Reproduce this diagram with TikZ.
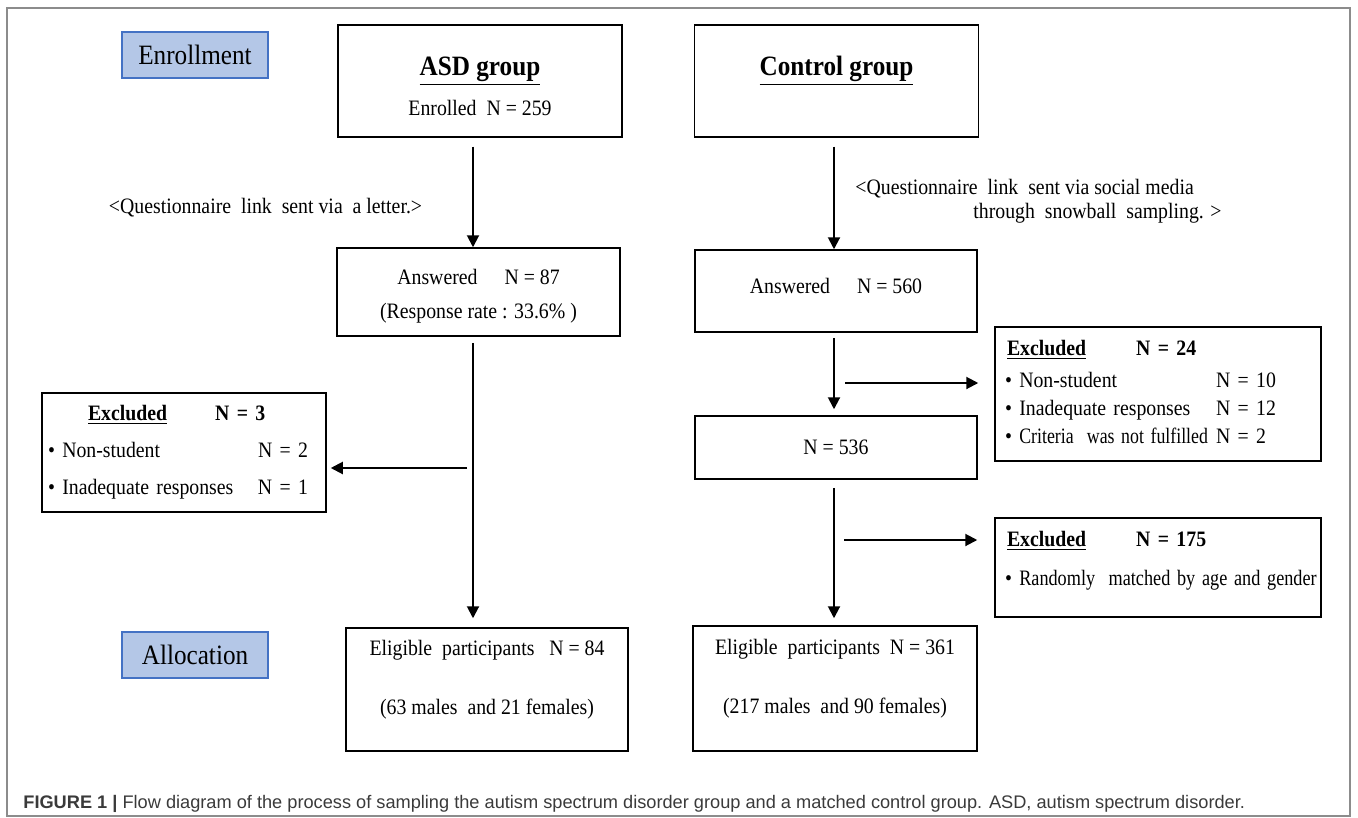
\documentclass[tikz,border=0pt]{standalone}
\usepackage{fontspec}
\usepackage{graphicx}
\setmainfont{Liberation Serif}[FakeStretch=0.9]
\newfontfamily\capfont{Liberation Sans}
\usetikzlibrary{arrows.meta, positioning, calc}
\definecolor{StageBlue}{HTML}{B4C7E7}
\definecolor{StageEdge}{HTML}{4472C4}
\definecolor{FrameGray}{HTML}{8C8C8C}
\definecolor{CaptionInk}{HTML}{3A3A3A}
% invisible struts that push a box text up or down
\newcommand{\padtop}[1]{\rule{0pt}{#1}}
\newcommand{\padbot}[1]{\rule[-#1]{0pt}{0pt}}

\begin{document}
\begin{tikzpicture}[x=0.5pt, y=-0.5pt,
    box/.style={draw, line width=0.75pt, align=center, inner sep=0pt, font=\fontsize{11}{13}\selectfont},
    stage/.style={draw=StageEdge, fill=StageBlue, line width=0.8pt, minimum width=73pt, minimum height=23pt, inner sep=0pt, font=\fontsize{14}{16}\selectfont},
    exbox/.style={draw, line width=0.75pt, align=left, inner ysep=0pt, font=\fontsize{11}{13}\selectfont},
    arr/.style={-{Triangle[length=6pt, width=6pt]}, line width=1pt},
    note/.style={inner sep=0pt, font=\fontsize{11}{13}\selectfont}]
    \useasboundingbox (0,0) rectangle (1358,818);
    \draw[FrameGray, line width=0.6pt] (7,8) rectangle (1350,816);

    % stages
    \node[stage] (enroll) at (195,55) {Enrollment};
    \node[stage] (alloc) at (195,655) {Allocation};

    % ASD column
    \node[box, minimum width=142pt, minimum height=56pt] (asd) at (480,81)
        {\padtop{15pt}{\fontsize{14}{16}\selectfont\underline{\textbf{ASD group}}}\\[7pt]Enrolled\ \ N = 259};
    \node[box, minimum width=141.5pt, minimum height=44pt] (asdans) at (478.5,292)
        {\padtop{12pt}Answered\quad\ N = 87\\[4pt](Response rate : 33.6\% )};
    \node[box, minimum width=141pt, minimum height=61.5pt] (asdelig) at (487,689.5)
        {Eligible\ \ participants\ \ \ N = 84\\[16.5pt](63 males\ \ and 21 females)\padbot{12pt}};
    \node[exbox, inner xsep=3pt, text width=136pt, minimum height=59.5pt] (asdexc) at (184,452.5)
        {\begin{tabular}{@{}p{105pt}@{}l@{}}
         \multicolumn{2}{@{}l@{}}{\hspace{20pt}\underline{\textbf{Excluded}}\hspace{24pt}\textbf{N = 3}}\\[5.5pt]
         • Non-student & N = 2\\[5.5pt]
         • Inadequate responses & N = 1
         \end{tabular}};

    % control column
    \node[box, minimum width=142pt, minimum height=56pt] (ctrl) at (836.5,81)
        {\padtop{15pt}{\fontsize{14}{16}\selectfont\underline{\textbf{Control group}}}\\[7pt]\vphantom{Enrolled}};
    \node[box, minimum width=141pt, minimum height=41pt] (ctrlans) at (836,291)
        {Answered\quad\ N = 560\padbot{5pt}};
    \node[box, minimum width=141pt, minimum height=31.5pt] (ctrl536) at (836,447.5) {N = 536};
    \node[box, minimum width=142pt, minimum height=62.5pt] (ctrlelig) at (835,688.5)
        {Eligible\ \ participants\ \ N = 361\\[16.5pt](217 males\ \ and 90 females)\padbot{12pt}};
    \node[exbox, inner xsep=5pt, text width=153pt, minimum height=67pt] (ctrlexc) at (1158,394)
        {\begin{tabular}{@{}p{105.5pt}@{}l@{}}
         \multicolumn{2}{@{}l@{}}{\hspace{1pt}\underline{\textbf{Excluded}}\hspace{25pt}\textbf{N = 24}}\\[3pt]
         • Non-student & N = 10\\[1pt]
         • Inadequate responses & N = 12\\[1pt]
         \mbox{• \scalebox{0.9}[1]{Criteria\ \ was not fulfilled}} & N = 2
         \end{tabular}};
    \node[exbox, inner xsep=5pt, text width=153pt, minimum height=49.5pt] (ctrlexcb) at (1158,567.5)
        {\hspace{1pt}\underline{\textbf{Excluded}}\hspace{25pt}\textbf{N = 175}\\[6.5pt]
         \mbox{• \scalebox{0.92}[1]{Randomly\ \ matched by age and gender}}\padbot{9pt}};

    % route notes
    \node[note] (asdvia) at (265.5,208) {<Questionnaire\ \ link\ \ sent via\ \ a letter.>};
    \node[note, anchor=west, align=left] (ctrlvia) at (855,201)
        {<Questionnaire\ \ link\ \ sent via social media\\[-1pt]\hspace{59pt}through\ \ snowball\ \ sampling. >};

    % arrows
    \coordinate (asdcol) at (473,0);
    \coordinate (ctrlcol) at (834,0);
    \coordinate (asdsplit) at (473,468);
    \coordinate (ctrlsplit) at (834,383);
    \coordinate (ctrlsplitb) at (834,540);
    \draw[arr, shorten <=4.5pt] (asd.south -| asdcol) -- (asdans.north -| asdcol);
    \draw[arr, shorten <=3pt, shorten >=4.5pt] (asdans.south -| asdcol) -- (asdelig.north -| asdcol);
    \draw[arr, shorten <=3pt, shorten >=2pt] (asdsplit) -- (asdexc.east |- asdsplit);
    \draw[arr, shorten <=4.5pt] (ctrl.south -| ctrlcol) -- (ctrlans.north -| ctrlcol);
    \draw[arr, shorten <=2.5pt, shorten >=3pt] (ctrlans.south -| ctrlcol) -- (ctrl536.north -| ctrlcol);
    \draw[arr, shorten <=5.5pt, shorten >=8pt] (ctrlsplit) -- (ctrlexc.west |- ctrlsplit);
    \draw[arr, shorten <=4pt, shorten >=3.5pt] (ctrl536.south -| ctrlcol) -- (ctrlelig.north -| ctrlcol);
    \draw[arr, shorten <=5pt, shorten >=8.5pt] (ctrlsplitb) -- (ctrlexcb.west |- ctrlsplitb);

    % caption
    \node[anchor=base west, inner sep=0pt, text=CaptionInk, font=\capfont\fontsize{9.1}{11}\selectfont] (caption) at (23,808)
        {\textbf{FIGURE 1 |} Flow diagram of the process of sampling the autism spectrum disorder group and a matched control group. ASD, autism spectrum disorder.};
\end{tikzpicture}
\end{document}
